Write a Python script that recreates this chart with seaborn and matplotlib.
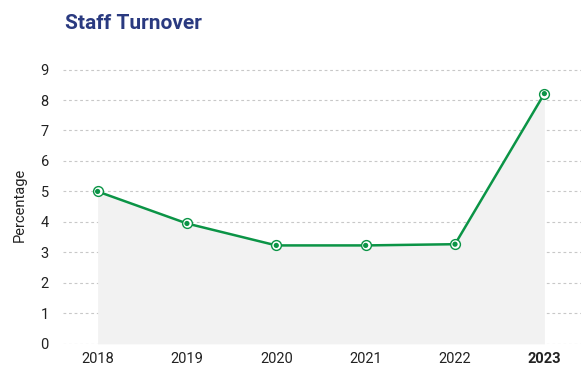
import matplotlib
matplotlib.use("Agg")
import matplotlib.pyplot as plt
import seaborn as sns
import pandas as pd

years = [2018, 2019, 2020, 2021, 2022, 2023]
turnover = [5.0, 3.95, 3.23, 3.23, 3.27, 8.21]
y_ticks = [0, 1, 2, 3, 4, 5, 6, 7, 8, 9]

df = pd.DataFrame({"Year": years, "Percentage": turnover})

sns.set_theme(style="white")
plt.rcParams["font.family"] = ["Roboto", "DejaVu Sans"]

green = "#0b9446"
fig = plt.figure(figsize=(5.81, 3.67), dpi=100)
ax = fig.add_axes([0.108, 0.063, 0.892, 0.76])

ax.fill_between(df["Year"], df["Percentage"], 0, color="#f2f2f2", lw=0, zorder=1)
for yv in y_ticks:
    ax.axhline(yv, color="#c8c8c8", lw=0.8, ls=(0, (2.5, 2.5)), zorder=0.5)

sns.lineplot(data=df, x="Year", y="Percentage", color=green, lw=1.8, ax=ax, zorder=3)
sns.scatterplot(data=df, x="Year", y="Percentage", s=50, facecolor="white",
                edgecolor=green, linewidth=1.0, ax=ax, zorder=4)
sns.scatterplot(data=df, x="Year", y="Percentage", s=14, color=green,
                edgecolor="none", ax=ax, zorder=5)

ax.set_xlim(2017.61, 2023.41)
ax.set_ylim(0, 9.15)
ax.set_yticks(y_ticks)
ax.set_xticks(years)
ax.set_xticklabels([str(y) for y in years])
for lab in ax.get_xticklabels():
    if lab.get_text() == "2023":
        lab.set_fontweight("bold")
ax.tick_params(axis="both", labelsize=10.5, colors="#222222", length=0, pad=6)
ax.tick_params(axis="y", pad=10)
ax.set_xlabel("")
ax.set_ylabel("Percentage", fontsize=10.5, color="#222222", labelpad=10)
for s in ax.spines.values():
    s.set_visible(False)
ax.grid(False)

fig.text(0.112, 0.936, "Staff Turnover", fontsize=15, fontweight="bold",
         color="#2a3a80", ha="left", va="center")

fig.savefig("out.png", dpi=100)
